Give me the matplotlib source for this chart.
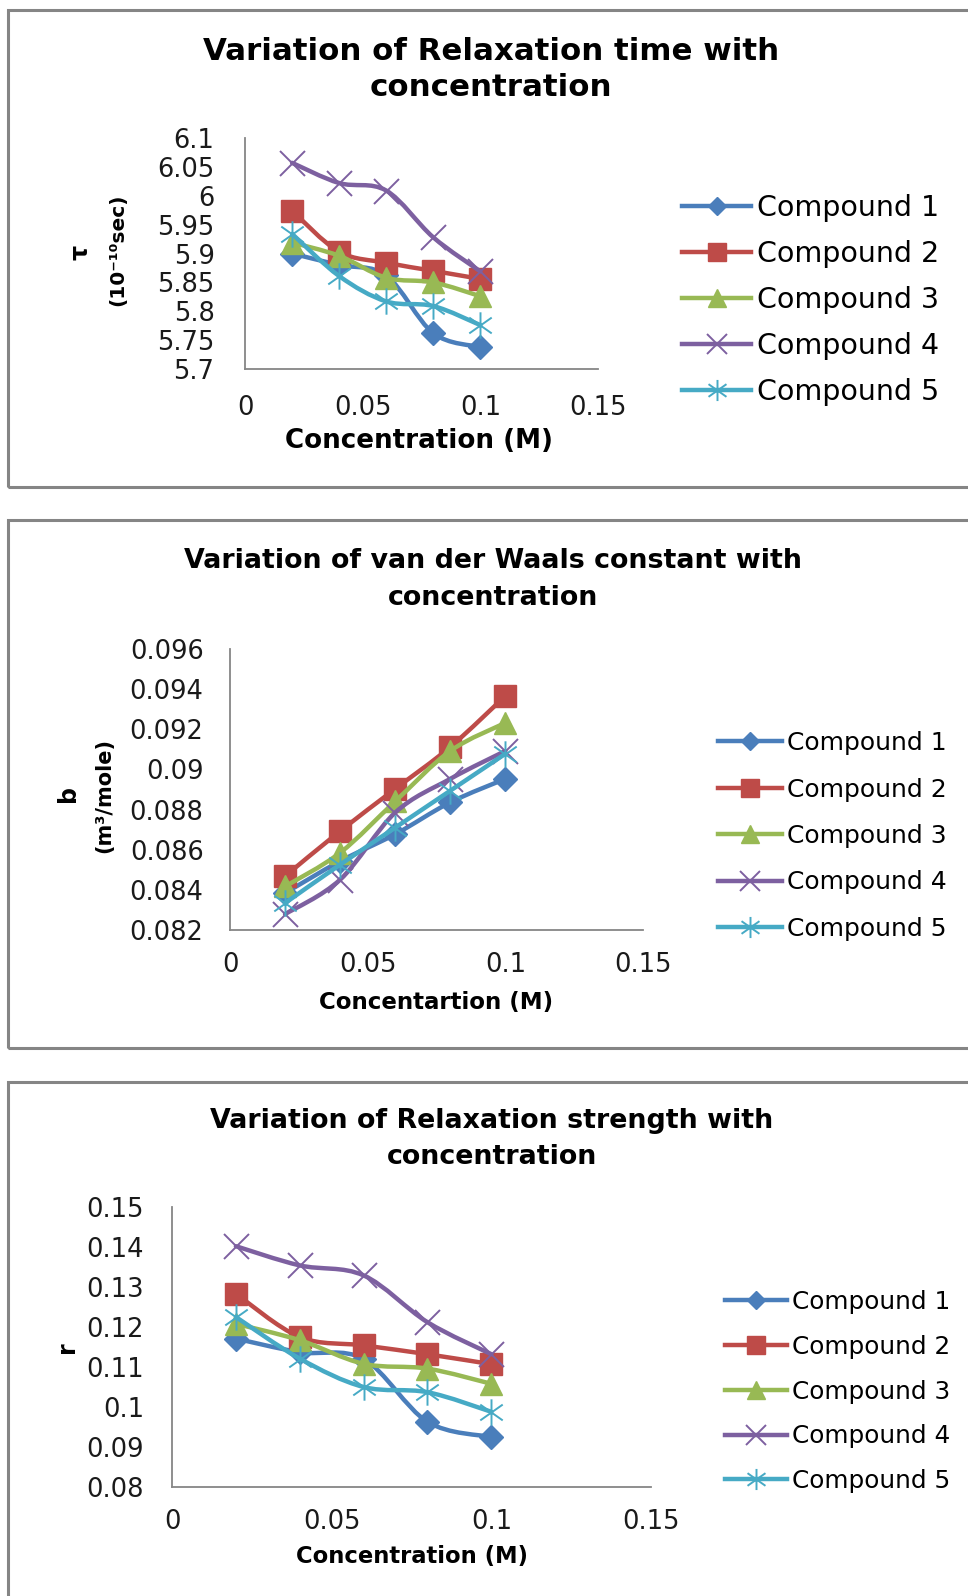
import numpy as np
import matplotlib
matplotlib.use("Agg")
import matplotlib.pyplot as plt
from matplotlib.path import Path
from matplotlib.patches import PathPatch, Rectangle
from matplotlib.lines import Line2D
from matplotlib.ticker import FuncFormatter

plt.rcParams['font.family'] = ['DejaVu Sans']

# ---------------- data ----------------
conc = [0.02, 0.04, 0.06, 0.08, 0.10]
compounds = ["Compound 1", "Compound 2", "Compound 3", "Compound 4", "Compound 5"]

tau_c1 = [5.900, 5.880, 5.862, 5.762, 5.738]
tau_c2 = [5.974, 5.903, 5.884, 5.870, 5.856]
tau_c3 = [5.919, 5.896, 5.858, 5.850, 5.826]
tau_c4 = [6.057, 6.022, 6.009, 5.928, 5.869]
tau_c5 = [5.934, 5.861, 5.817, 5.809, 5.776]

b_c1 = [0.08384, 0.08543, 0.08677, 0.08836, 0.08953]
b_c2 = [0.08468, 0.08693, 0.08903, 0.09112, 0.09366]
b_c3 = [0.08417, 0.08585, 0.08841, 0.09092, 0.09232]
b_c4 = [0.08279, 0.08451, 0.08785, 0.08953, 0.09092]
b_c5 = [0.08334, 0.08526, 0.08710, 0.08894, 0.09078]

r_c1 = [0.1171, 0.1137, 0.1120, 0.0963, 0.0925]
r_c2 = [0.1283, 0.1175, 0.1154, 0.1132, 0.1107]
r_c3 = [0.1208, 0.1167, 0.1108, 0.1096, 0.1058]
r_c4 = [0.1402, 0.1354, 0.1329, 0.1212, 0.1132]
r_c5 = [0.1225, 0.1121, 0.1050, 0.1037, 0.0988]

x_ticks = [0, 0.05, 0.1, 0.15]
tau_ticks = [5.7, 5.75, 5.8, 5.85, 5.9, 5.95, 6.0, 6.05, 6.1]
b_ticks = [0.082, 0.084, 0.086, 0.088, 0.090, 0.092, 0.094, 0.096]
r_ticks = [0.08, 0.09, 0.10, 0.11, 0.12, 0.13, 0.14, 0.15]

# ---------------- style ----------------
colors = ["#4A7EBB", "#BE4B48", "#98B954", "#7D60A0", "#46AAC5"]
star = Path([(0, -1), (0, 1), (-0.85, -0.6), (0.85, 0.6), (-0.85, 0.6), (0.85, -0.6)],
            [Path.MOVETO, Path.LINETO, Path.MOVETO, Path.LINETO, Path.MOVETO, Path.LINETO])
markers = ["D", "s", "^", "x", star]
msizes = [12, 16, 16, 18, 19]
mews = [1, 1, 1, 1.4, 1.4]

W, H = 968, 1596
fig = plt.figure(figsize=(W / 100, H / 100), dpi=100)


def fx(px):
    return px / W


def fy(py):
    return 1 - py / H


def smooth_path(xs, ys):
    pts = np.column_stack([xs, ys])
    n = len(pts)
    verts = [tuple(pts[0])]
    codes = [Path.MOVETO]
    for i in range(n - 1):
        p0 = pts[i - 1] if i > 0 else pts[i]
        p1 = pts[i]
        p2 = pts[i + 1]
        p3 = pts[i + 2] if i + 2 < n else pts[i + 1]
        c1 = p1 + (p2 - p0) / 6.0
        c2 = p2 - (p3 - p1) / 6.0
        verts += [tuple(c1), tuple(c2), tuple(p2)]
        codes += [Path.CURVE4] * 3
    return Path(verts, codes)


def panel(box, ax_px, title, title_xy, title_fs, title_ls, series, yticks, ylim, xlabel,
          xlabel_xy, xlabel_fs, ylabels, ypad, xpad, leg_xy, leg_fs, leg_hl, leg_ls):
    bx0, by0, by1 = box
    fig.add_artist(Rectangle((fx(bx0), fy(by1)), 2.0, fy(by0) - fy(by1),
                             transform=fig.transFigure, fill=False,
                             edgecolor="#858585", linewidth=2.2))
    L, R, T, B = ax_px
    ax = fig.add_axes([fx(L), fy(B), fx(R - L), fy(T) - fy(B)])
    for k, ys in enumerate(series):
        ax.add_patch(PathPatch(smooth_path(conc, ys), transform=ax.transData,
                               fill=False, edgecolor=colors[k], linewidth=3.2,
                               capstyle="round", joinstyle="round", zorder=2 + k))
        ax.plot(conc, ys, linestyle="none", marker=markers[k], markersize=msizes[k],
                color=colors[k], markeredgecolor=colors[k], markeredgewidth=mews[k],
                zorder=2.5 + k)
    ax.set_xlim(0, 0.15)
    ax.set_ylim(*ylim)
    ax.set_xticks(x_ticks)
    ax.set_yticks(yticks)
    ax.xaxis.set_major_formatter(FuncFormatter(lambda v, p: "%g" % round(v, 6)))
    ax.yaxis.set_major_formatter(FuncFormatter(lambda v, p: "%g" % round(v, 6)))
    ax.tick_params(axis="both", length=0, labelsize=18.5, colors="#1a1a1a")
    ax.tick_params(axis="y", pad=ypad)
    ax.tick_params(axis="x", pad=xpad)
    for s in ["top", "right"]:
        ax.spines[s].set_visible(False)
    for s in ["left", "bottom"]:
        ax.spines[s].set_color("#868686")
        ax.spines[s].set_linewidth(1.3)
    ax.set_facecolor("none")
    ax.set_xlabel(xlabel, fontsize=xlabel_fs, fontweight="bold")
    ax.xaxis.label.set_verticalalignment("center")
    ax.xaxis.set_label_coords(fx(xlabel_xy[0]), fy(xlabel_xy[1]), transform=fig.transFigure)
    fig.text(fx(title_xy[0]), fy(title_xy[1]), title, ha="center", va="center",
             fontsize=title_fs, fontweight="bold", linespacing=title_ls)
    for txt, x, y, fs in ylabels:
        fig.text(fx(x), fy(y), txt, rotation=90, ha="center", va="center",
                 fontsize=fs, fontweight="bold")
    handles = [Line2D([], [], color=colors[k], linewidth=3.2, marker=markers[k],
                      markersize=msizes[k] * 0.8, markeredgewidth=mews[k],
                      markeredgecolor=colors[k]) for k in range(5)]
    ax.legend(handles, compounds, loc="center left",
              bbox_to_anchor=(fx(leg_xy[0]), fy(leg_xy[1])),
              bbox_transform=fig.transFigure, frameon=False, fontsize=leg_fs,
              handlelength=leg_hl, handletextpad=0.2, labelspacing=leg_ls,
              borderpad=0, borderaxespad=0)
    return ax


panel((8, 10, 487), (245, 598, 138, 369),
      "Variation of Relaxation time with\nconcentration", (491, 69.5), 22.2, 1.31,
      [tau_c1, tau_c2, tau_c3, tau_c4, tau_c5], tau_ticks, (5.7, 6.1),
      "Concentration (M)", (419, 441), 18.8,
      [("τ", 80, 252, 17), ("(10⁻¹⁰sec)", 118, 250, 14.5)], 22, 19,
      (682, 300), 20.5, 2.44, 0.64)

panel((8, 520, 1048), (230, 643, 649, 930),
      "Variation of van der Waals constant with\nconcentration", (493, 579.5), 19.4, 1.55,
      [b_c1, b_c2, b_c3, b_c4, b_c5], b_ticks, (0.082, 0.096),
      "Concentartion (M)", (436, 1003), 16.5,
      [("b", 68, 793, 17), ("(m³/mole)", 104, 795, 15)], 19, 16,
      (718, 836), 18, 2.56, 0.9)

panel((8, 1082, 1700), (172, 651, 1207, 1487),
      "Variation of Relaxation strength with\nconcentration", (492, 1139.5), 19.4, 1.5,
      [r_c1, r_c2, r_c3, r_c4, r_c5], r_ticks, (0.08, 0.15),
      "Concentration (M)", (412, 1557), 16.3,
      [("r", 67, 1347, 17)], 20, 16,
      (725, 1391.5), 17.8, 2.5, 0.84)

fig.savefig("out.png", dpi=100, facecolor="white")
